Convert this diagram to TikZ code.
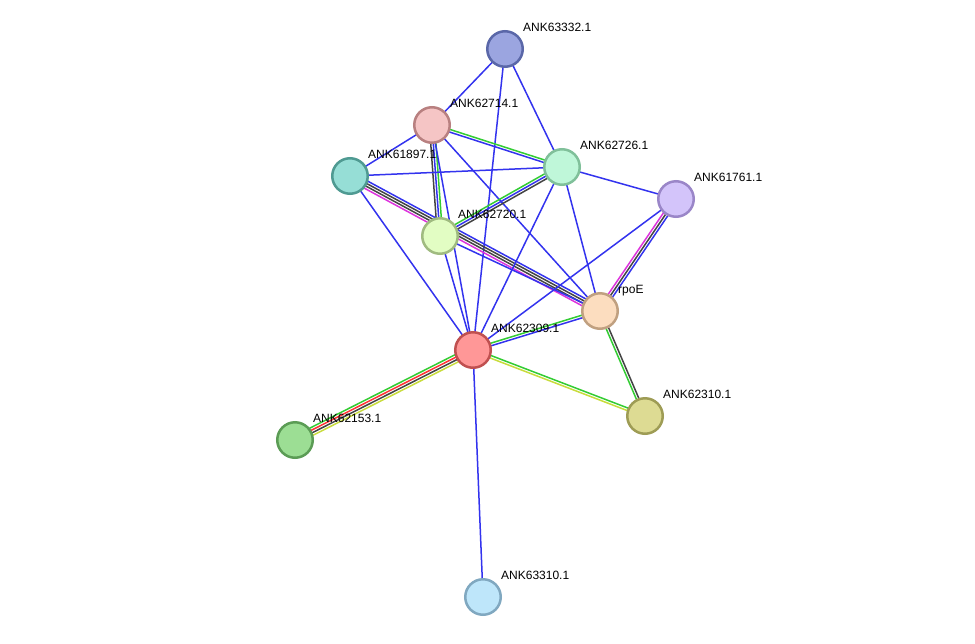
\documentclass[tikz,border=0pt]{standalone}
\usepackage{fontspec}
\setmainfont{Liberation Sans}
\usetikzlibrary{calc,backgrounds}
\definecolor{eb}{HTML}{3333EE}
\definecolor{eg}{HTML}{33CC33}
\definecolor{em}{HTML}{DD33DD}
\definecolor{ek}{HTML}{444444}
\definecolor{er}{HTML}{FF3333}
\definecolor{ey}{HTML}{C8DC3C}
\tikzset{
 prot/.style={circle,minimum size=35.5pt,inner sep=0pt,line width=2.5pt},
 lbl/.style={anchor=base west,font=\fontsize{12}{14}\selectfont,inner sep=0pt},
 edge/.style={line width=1.5pt},
}
\newcommand\lnk[3]{\foreach \cc/\oo in {#3}{\draw[edge,color=\cc] ($(#1)!-\oo pt!90:(#2)$) -- ($(#2)!-\oo pt!-90:(#1)$);}}
\begin{document}
\begin{tikzpicture}[x=1pt,y=-1pt]
\useasboundingbox (0,0) rectangle (975,643);
\node[prot,fill={rgb,255:red,155;green,165;blue,224},draw={rgb,255:red,90;green,103;blue,168}] (a63332) at (505,49) {};
\node[prot,fill={rgb,255:red,245;green,197;blue,197},draw={rgb,255:red,184;green,128;blue,128}] (a62714) at (432,125) {};
\node[prot,fill={rgb,255:red,150;green,222;blue,214},draw={rgb,255:red,79;green,154;blue,146}] (a61897) at (350,176) {};
\node[prot,fill={rgb,255:red,191;green,247;blue,217},draw={rgb,255:red,128;green,192;blue,154}] (a62726) at (562,167) {};
\node[prot,fill={rgb,255:red,211;green,196;blue,250},draw={rgb,255:red,154;green,134;blue,200}] (a61761) at (676,199) {};
\node[prot,fill={rgb,255:red,226;green,253;blue,195},draw={rgb,255:red,160;green,187;blue,128}] (a62720) at (440,236) {};
\node[prot,fill={rgb,255:red,252;green,221;blue,191},draw={rgb,255:red,192;green,160;blue,128}] (rpoE) at (600,311) {};
\node[prot,fill={rgb,255:red,255;green,151;blue,151},draw={rgb,255:red,192;green,80;blue,80}] (a62309) at (473,350) {};
\node[prot,fill={rgb,255:red,156;green,222;blue,148},draw={rgb,255:red,91;green,156;blue,85}] (a62153) at (295,440) {};
\node[prot,fill={rgb,255:red,221;green,219;blue,147},draw={rgb,255:red,158;green,156;blue,85}] (a62310) at (645,416) {};
\node[prot,fill={rgb,255:red,190;green,230;blue,250},draw={rgb,255:red,128;green,168;blue,192}] (a63310) at (483,597) {};
\node[lbl] (l63332) at ($(a63332)+(18,-18)$) {ANK63332.1};
\node[lbl] (l62714) at ($(a62714)+(18,-18)$) {ANK62714.1};
\node[lbl] (l61897) at ($(a61897)+(18,-18)$) {ANK61897.1};
\node[lbl] (l62726) at ($(a62726)+(18,-18)$) {ANK62726.1};
\node[lbl] (l61761) at ($(a61761)+(18,-18)$) {ANK61761.1};
\node[lbl] (l62720) at ($(a62720)+(18,-18)$) {ANK62720.1};
\node[lbl] (lrpoE) at ($(rpoE)+(18,-18)$) {rpoE};
\node[lbl] (l62309) at ($(a62309)+(18,-18)$) {ANK62309.1};
\node[lbl] (l62153) at ($(a62153)+(18,-18)$) {ANK62153.1};
\node[lbl] (l62310) at ($(a62310)+(18,-18)$) {ANK62310.1};
\node[lbl] (l63310) at ($(a63310)+(18,-18)$) {ANK63310.1};
\begin{scope}[on background layer]
\lnk{a63332}{a62714}{eb/0}
\lnk{a63332}{a62309}{eb/0}
\lnk{a63332}{a62726}{eb/0}
\lnk{a62714}{a61897}{eb/0}
\lnk{a62714}{a62726}{eg/-1.3,eb/1.3}
\lnk{a62714}{a62720}{ek/2.6,eb/0,eg/-2.6}
\lnk{a62714}{a62309}{eb/0}
\lnk{a62714}{rpoE}{eb/0}
\lnk{a61897}{a62726}{eb/0}
\lnk{a61897}{rpoE}{eb/-3.9,ek/-1.3,ek/1.3,em/3.9}
\lnk{a61897}{a62309}{eb/0}
\lnk{a62720}{a62726}{eg/-2.6,eb/0,ek/2.6}
\lnk{a62720}{rpoE}{eb/0}
\lnk{a62720}{a62309}{eb/0}
\lnk{a62726}{a61761}{eb/0}
\lnk{a62726}{rpoE}{eb/0}
\lnk{a62726}{a62309}{eb/0}
\lnk{a61761}{rpoE}{em/2.6,ek/0,eb/-2.6}
\lnk{a61761}{a62309}{eb/0}
\lnk{rpoE}{a62309}{eg/1.3,eb/-1.3}
\lnk{rpoE}{a62310}{eg/1.3,ek/-1.3}
\lnk{a62309}{a62310}{eg/-1.3,ey/1.3}
\lnk{a62309}{a62153}{eg/3.9,er/1.3,ek/-1.3,ey/-3.9}
\lnk{a62309}{a63310}{eb/0}
\end{scope}
\end{tikzpicture}
\end{document}
